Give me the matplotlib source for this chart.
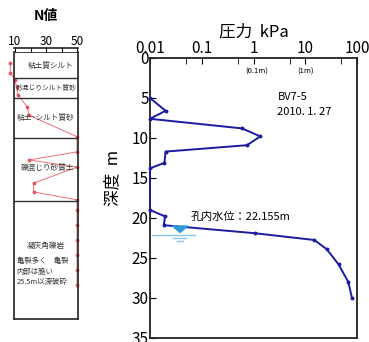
import matplotlib
matplotlib.use('Agg')
import matplotlib.pyplot as plt
import numpy as np

plt.rcParams['font.family'] = ['Noto Sans CJK JP', 'DejaVu Sans']

# pressure log (depth m, pressure kPa)
depth = [5.0, 6.6, 7.6, 8.8, 9.8, 10.9, 11.7, 13.1, 13.8, 19.0, 19.8, 20.9,
         21.9, 22.75, 23.9, 25.8, 28.0, 30.0]
pressure = [0.01, 0.02, 0.01, 0.6, 1.35, 0.75, 0.02, 0.019, 0.01, 0.01, 0.0195,
            0.0185, 1.05, 15, 26, 44, 68, 80]

# N value log
n_depth = [1.4, 2.6, 3.5, 4.4, 5.4, 6.9, 7.9, 10.6, 12.5, 13.5, 14.4, 16.4,
           17.5, 18.5, 19.75, 21.6, 23.5, 25.4, 27.25, 29.1]
n_value = [7, 7, 10, 11, 12, 18, 19, 50, 50, 19, 50, 22, 22, 50, 50, 50, 50,
           50, 50, 50]

# soil layers
layer_bottom = [3.25, 5.75, 10.75, 18.6, 33.4]
layer_names = ['粘土質シルト', '砂混じりシルト質砂', '粘土~シルト質砂',
               '礫混じり砂質土', '凝灰角礫岩']
layer_note = ['亀裂多く　亀裂', '内部は脆い', '25.5m以深破砕']

water_level = 22.155
x_ticks = [0.01, 0.1, 1, 10, 100]
x_tick_labels = ['0.01', '0.1', '1', '10', '100']
x_minor = [0.05, 0.5, 5, 50]

fig = plt.figure(figsize=(3.69, 3.42), dpi=100)

# ---- main pressure plot
ax = fig.add_axes([150/369, 1-338/342, 207/369, 280/342])
ax.set_xscale('log')
ax.set_xlim(0.01, 100)
ax.set_ylim(35, 0)
ax.plot(pressure, depth, color='#1c1ca0', lw=1.4, marker='o', ms=1.8,
        zorder=5, clip_on=False)

ax.xaxis.tick_top()
ax.set_xticks(x_ticks)
ax.set_xticklabels(x_tick_labels)
ax.set_xticks(x_minor, minor=True)
ax.set_xticklabels([], minor=True)
ax.tick_params(axis='x', which='both', direction='in', length=4, labelsize=11, pad=1)
ax.set_yticks(np.arange(0, 36, 5))
ax.tick_params(axis='y', direction='in', length=4, labelsize=11, pad=1)
ax.xaxis.set_label_position('top')
ax.set_xlabel('圧力  kPa', fontsize=12, labelpad=2)
ax.set_ylabel('深度  m', fontsize=12, labelpad=0)
ax.yaxis.set_label_coords(-0.14, 0.57)
for s in ax.spines.values():
    s.set_linewidth(1.3)
    s.set_color('#222222')

ax.text(1.15, 1.75, '(0.1m)', fontsize=5.5, ha='center', va='center')
ax.text(10, 1.75, '(1m)', fontsize=5.5, ha='center', va='center')
ax.text(2.9, 4.9, 'BV7-5', fontsize=8, ha='left', va='center')
ax.text(2.9, 6.75, '2010. 1. 27', fontsize=8, ha='left', va='center')

# water level symbol
ax.fill([0.027, 0.054, 0.038], [21.0, 21.0, water_level - 0.35],
        color='#3399dd', zorder=6)
ax.plot([0.0109, 0.074], [water_level, water_level], color='#88c4ee', lw=1)
ax.plot([0.028, 0.05], [water_level + 0.35, water_level + 0.35], color='#88c4ee', lw=1)
ax.plot([0.033, 0.043], [water_level + 0.7, water_level + 0.7], color='#88c4ee', lw=1)
ax.text(0.06, 19.9, '孔内水位：22.155m', fontsize=8, ha='left', va='center')

# ---- left column: N value and soil layers
axn = fig.add_axes([14/369, 1-319/342, 64/369, 267/342])
axn.set_xlim(9.35, 50.6)
axn.set_ylim(33.4, 0)
axn.plot(n_value, n_depth, color='#e8404c', lw=0.7, marker='o', ms=1.8,
         clip_on=False, alpha=0.75)
axn.xaxis.tick_top()
axn.set_xticks([10, 20, 30, 40, 50])
axn.set_xticklabels(['10', '', '30', '', '50'])
axn.tick_params(axis='x', direction='in', length=3, labelsize=8.5, pad=0)
axn.set_yticks([])
axn.spines['top'].set_position(('outward', 3))
axn.axhline(0, color='#222222', lw=1.2)
axn.set_title('N値', fontsize=10, pad=11, fontweight='bold')
for s in axn.spines.values():
    s.set_linewidth(1.2)
    s.set_color('#222222')

for b in layer_bottom[:-1]:
    axn.axhline(b, color='#333333', lw=1)

label_y = [1.7, 4.5, 8.3, 14.5, 24.3]
label_x = [48, 30, 48, 48, 30]
label_ha = ['right', 'center', 'right', 'right', 'center']
label_size = [5.5, 4.9, 5.5, 5.5, 5.5]
for name, xv, yv, ha, fs in zip(layer_names, label_x, label_y, label_ha, label_size):
    axn.text(xv, yv, name, fontsize=fs, ha=ha, va='center', color='#333333')
for i, note in enumerate(layer_note):
    axn.text(11, 26.2 + i * 1.3, note, fontsize=5.3, ha='left', va='center',
             color='#333333')

plt.savefig('out.png', dpi=100)
